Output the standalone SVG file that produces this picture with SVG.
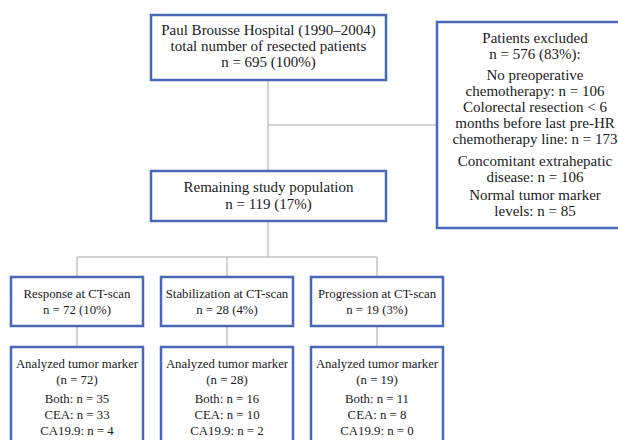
<svg xmlns="http://www.w3.org/2000/svg" width="618" height="440" viewBox="0 0 618 440">
<style>
.box{fill:#fff;stroke:#4a68b8;stroke-width:2.5}
.t{font-family:"Liberation Serif","Times New Roman",serif;font-size:15px;fill:#1a1a1a;text-anchor:middle}
.s{font-size:12.8px}
.c{stroke:#a8a8a8;stroke-width:1;fill:none}
</style>
<rect width="618" height="440" fill="#fff"/>
<g id="connectors">
<path class="c" d="M268 80V171"/>
<path class="c" d="M268 125H437"/>
<path class="c" d="M268 221V257"/>
<path class="c" d="M77 277V257H377V277"/>
<path class="c" d="M227 257V277"/>
<path class="c" d="M77 326V347"/>
<path class="c" d="M227 326V347"/>
<path class="c" d="M377 326V347"/>
</g>
<g id="hospital">
<rect class="box" x="151" y="15" width="235" height="65"/>
<text class="t" x="268.5" y="35">Paul Brousse Hospital (1990–2004)</text>
<text class="t" x="268.5" y="51">total number of resected patients</text>
<text class="t" x="268.5" y="67">n = 695 (100%)</text>
</g>
<g id="excluded">
<rect class="box" x="437" y="22" width="200" height="206"/>
<text class="t" x="535" y="43">Patients excluded</text>
<text class="t" x="535" y="59">n = 576 (83%):</text>
<text class="t" x="535" y="80">No preoperative</text>
<text class="t" x="535" y="96">chemotherapy: n = 106</text>
<text class="t" x="535" y="112">Colorectal resection &lt; 6</text>
<text class="t" x="535" y="128">months before last pre-HR</text>
<text class="t" x="535" y="144">chemotherapy line: n = 173</text>
<text class="t" x="535" y="166">Concomitant extrahepatic</text>
<text class="t" x="535" y="182">disease: n = 106</text>
<text class="t" x="535" y="200">Normal tumor marker</text>
<text class="t" x="535" y="216">levels: n = 85</text>
</g>
<g id="remaining">
<rect class="box" x="151" y="171" width="235" height="50"/>
<text class="t" x="268.5" y="192">Remaining study population</text>
<text class="t" x="268.5" y="209">n = 119 (17%)</text>
</g>
<g id="response">
<rect class="box" x="11" y="277" width="132" height="49"/>
<text class="t s" x="77" y="298">Response at CT-scan</text>
<text class="t s" x="77" y="314">n = 72 (10%)</text>
</g>
<g id="stabilization">
<rect class="box" x="161" y="277" width="132" height="49"/>
<text class="t s" x="227" y="298">Stabilization at CT-scan</text>
<text class="t s" x="227" y="314">n = 28 (4%)</text>
</g>
<g id="progression">
<rect class="box" x="311" y="277" width="132" height="49"/>
<text class="t s" x="377" y="298">Progression at CT-scan</text>
<text class="t s" x="377" y="314">n = 19 (3%)</text>
</g>
<g id="marker-response">
<rect class="box" x="11" y="347" width="132" height="110"/>
<text class="t s" x="77" y="368">Analyzed tumor marker</text>
<text class="t s" x="77" y="384">(n = 72)</text>
<text class="t s" x="77" y="403">Both: n = 35</text>
<text class="t s" x="77" y="419">CEA: n = 33</text>
<text class="t s" x="77" y="435">CA19.9: n = 4</text>
</g>
<g id="marker-stabilization">
<rect class="box" x="161" y="347" width="132" height="110"/>
<text class="t s" x="227" y="368">Analyzed tumor marker</text>
<text class="t s" x="227" y="384">(n = 28)</text>
<text class="t s" x="227" y="403">Both: n = 16</text>
<text class="t s" x="227" y="419">CEA: n = 10</text>
<text class="t s" x="227" y="435">CA19.9: n = 2</text>
</g>
<g id="marker-progression">
<rect class="box" x="311" y="347" width="132" height="110"/>
<text class="t s" x="377" y="368">Analyzed tumor marker</text>
<text class="t s" x="377" y="384">(n = 19)</text>
<text class="t s" x="377" y="403">Both: n = 11</text>
<text class="t s" x="377" y="419">CEA: n = 8</text>
<text class="t s" x="377" y="435">CA19.9: n = 0</text>
</g>
</svg>
